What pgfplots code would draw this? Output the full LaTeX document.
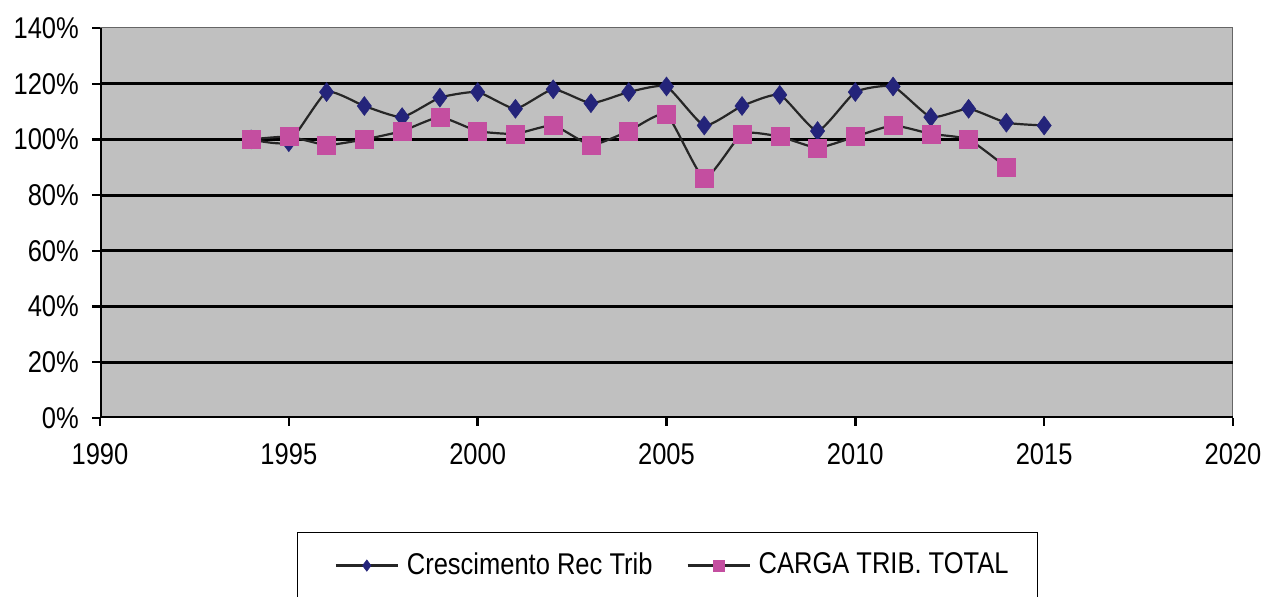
\documentclass[border=0pt]{standalone}
\usepackage{fontspec}
\setmainfont{Liberation Sans}[FakeStretch=0.85]
\usepackage{pgfplots}
\pgfplotsset{compat=1.18}
\definecolor{navyb}{RGB}{36,36,122}
\definecolor{pinkm}{RGB}{196,78,160}
\definecolor{plotgray}{RGB}{192,192,192}
\begin{document}
\fontsize{30bp}{35bp}\selectfont
\begin{tikzpicture}[x=1bp,y=1bp]
\path[use as bounding box] (0,0) rectangle (1266,597);
\begin{axis}[
  at={(100bp,179bp)}, anchor=south west,
  scale only axis, width=1133bp, height=390bp,
  xmin=1990, xmax=2020, ymin=0, ymax=140,
  xtick={1990,1995,...,2020}, ytick={0,20,...,140},
  xtick pos=left, ytick pos=left,
  yticklabel={\pgfmathprintnumber{\tick}\%},
  /pgf/number format/assume math mode=true,
  x tick label style={/pgf/number format/1000 sep={}, yshift=-7bp},
  y tick label style={xshift=-3bp},
  tick label style={font=\fontsize{30bp}{35bp}\selectfont},
  axis background/.style={fill=plotgray},
  axis line style={draw=gray!80!black, line width=1bp},
  tick align=outside, major tick length=8bp,
  tick style={black, line width=2.4bp},
  extra y ticks={20,40,60,80,100,120},
  extra y tick labels={},
  extra y tick style={grid=major, major tick length=0bp},
  grid style={black, line width=2.8bp},
  legend style={at={(0.501,-0.292)}, anchor=north, draw=black, line width=1.2bp,
    fill=white, legend columns=2, inner xsep=27bp, inner ysep=18bp,
    font=\fontsize{30bp}{35bp}\selectfont,
    /tikz/every even column/.append style={column sep=22bp}},
  legend cell align=left,
  legend image code/.code={\path (0bp,0bp); \draw[mark repeat=2,mark phase=2,#1,every mark/.append style={scale=0.6}] plot coordinates {(10bp,0bp)(41bp,0bp)(72bp,0bp)};},
]
\draw[black, line width=3bp] (rel axis cs:0,0) -- (rel axis cs:0,1);
\draw[black, line width=3bp] (rel axis cs:0,0) -- (rel axis cs:1,0);
\addplot[black!85, line width=2.2bp, smooth, tension=0.3, mark=diamond*, mark size=9.5bp,
  mark options={fill=navyb, draw=navyb, line width=0.5bp}] coordinates {
(1994,100) (1995,99) (1996,117) (1997,112) (1998,108) (1999,115) (2000,117)
(2001,111) (2002,118) (2003,113) (2004,117) (2005,119) (2006,105) (2007,112)
(2008,116) (2009,103) (2010,117) (2011,119) (2012,108) (2013,111) (2014,106) (2015,105)};
\addlegendentry{\hspace{6bp}Crescimento Rec Trib}
\addplot[black!85, line width=2.2bp, smooth, tension=0.3, mark=square*, mark size=9bp,
  mark options={fill=pinkm, draw=pinkm, line width=0.5bp}] coordinates {
(1994,100) (1995,101) (1996,98) (1997,100) (1998,103) (1999,108) (2000,103)
(2001,102) (2002,105) (2003,98) (2004,103) (2005,109) (2006,86) (2007,102)
(2008,101) (2009,97) (2010,101) (2011,105) (2012,102) (2013,100) (2014,90)};
\addlegendentry{\hspace{6bp}CARGA TRIB. TOTAL}
\end{axis}
\end{tikzpicture}
\end{document}
